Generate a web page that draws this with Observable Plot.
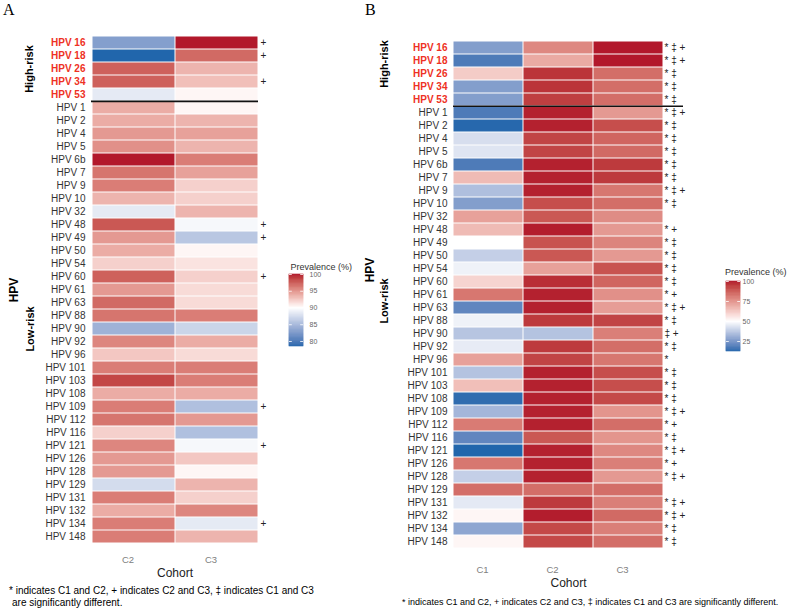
<!DOCTYPE html>
<html><head><meta charset="utf-8">
<script src="https://cdn.jsdelivr.net/npm/d3@7"></script>
<script src="https://cdn.jsdelivr.net/npm/@observablehq/plot@0.6"></script>
<style>
body{margin:0;background:#fff;}
#root{position:relative;width:788px;height:609px;overflow:hidden;background:#fff;font-family:"Liberation Sans",Arial,sans-serif;}
.abs{position:absolute;}
</style></head><body><div id="root"></div>
<script>
// ---------- data ----------
const hpvTypes = ["HPV 16","HPV 18","HPV 26","HPV 34","HPV 53","HPV 1","HPV 2","HPV 4","HPV 5","HPV 6b","HPV 7","HPV 9","HPV 10","HPV 32","HPV 48","HPV 49","HPV 50","HPV 54","HPV 60","HPV 61","HPV 63","HPV 88","HPV 90","HPV 92","HPV 96","HPV 101","HPV 103","HPV 108","HPV 109","HPV 112","HPV 116","HPV 121","HPV 126","HPV 128","HPV 129","HPV 131","HPV 132","HPV 134","HPV 148"];
const highRisk = ["HPV 16","HPV 18","HPV 26","HPV 34","HPV 53"];
const cohortsA = ["C2","C3"];
const cohortsB = ["C1","C2","C3"];

// Panel A prevalence (%)
const prevA_C2 = [83,78.5,97.4,97.4,88.5,93.9,93.9,94.8,95.2,100,96.5,96.1,93.5,88.5,97.8,94.8,93.9,92.2,97.4,94.8,97,96.5,84.5,95.7,92.6,96.1,98.5,93.9,96.1,96.5,92.2,95.7,94.8,94.8,87.5,96.1,93.9,96.1,96.1];
const prevA_C3 = [100,97,93.5,93,90.4,90.4,93.5,94.4,93.5,96.1,94.4,92.2,92.2,93.5,89.5,86,90.4,91.3,92.2,91.7,91.7,96.1,87,93.9,91.7,96.1,96.1,93.9,85.5,94.8,85.5,89.5,92.6,90.4,93.5,92.2,95.7,88.5,93.5];
const sigA = ["+","+","","+","","","","","","","","","","","+","+","","","+","","","","","","","","","","+","","","+","","","","","","+",""];

// Panel B prevalence (%)
const prevB_C1 = [27,18,62,27,27,18,13,42.5,44,18,66,35,27,72,66,50,39,47,60,82,21,47,36.5,45.5,72,36,65,14,33,81,21,12.5,82,39,84,45,52,29,52];
const prevB_C2 = [78,70,96,96,94,99,99,93,93,99,99,99,91,89,99.5,90,89,72,97,99,99,95,36,95,93,99,99,99,99,99,89,99,99,99,84,95,99.5,92,92];
const prevB_C3 = [100,100,84,84,84,74,91,86,85,95,95,82,84,77,74,79,74,90,86,76,73,93,80,84,82,91,91,92,75,84,75,78,80,74,84,80,85,80,84];
const sigB = ["* ‡ +","* ‡ +","* ‡","* ‡","* ‡","* ‡ +","* ‡","* ‡","* ‡","* ‡","* ‡","* ‡ +","* ‡","","* +","* ‡","* ‡","* ‡","* ‡","* +","* ‡ +","* ‡","‡ +","* ‡","*","* ‡","* ‡","* ‡","* ‡ +","* +","* ‡","* ‡ +","* +","* ‡ +","","* ‡ +","* ‡ +","* ‡","* ‡"];

const ticksA = [80,85,90,95,100];
const ticksB = [25,50,75,100];
const pivotA = 90, pivotB = 50;

// ---------- tidy ----------
const lowRisk = hpvTypes.filter(h => !highRisk.includes(h));
const cellsA = hpvTypes.flatMap((h,i) => [
  {hpv:h, cohort:"C2", value:prevA_C2[i]},
  {hpv:h, cohort:"C3", value:prevA_C3[i]}]);
const cellsB = hpvTypes.flatMap((h,i) => [
  {hpv:h, cohort:"C1", value:prevB_C1[i]},
  {hpv:h, cohort:"C2", value:prevB_C2[i]},
  {hpv:h, cohort:"C3", value:prevB_C3[i]}]);
const sigRowsA = hpvTypes.map((h,i) => ({hpv:h, sig:sigA[i]}));
const sigRowsB = hpvTypes.map((h,i) => ({hpv:h, sig:sigB[i]}));
const extA = d3.extent(cellsA, d => d.value);
const extB = d3.extent(cellsB, d => d.value);

const FONT = "Liberation Sans, Arial, sans-serif";
const colorOpt = (ext, pivot) => ({type:"diverging", pivot, symmetric: false, domain: ext, range:["#2166AC","#FFFFFF","#B2182B"], interpolate:"lab"});
const RED = "#EE3124", LAB = "#333333";

const root = document.getElementById("root");
function place(node, left, top, w) {
  const d = document.createElement("div");
  d.className = "abs"; d.style.left = left + "px"; d.style.top = top + "px"; d.style.width = w + "px";
  d.appendChild(node); root.appendChild(d);
}

function heatmap({cells, sigRows, cohorts, ext, pivot, width, height, mL, mR, mT, mB, sigDx, ruleExt}) {
  const bw = (height - mT - mB) / hpvTypes.length;
  return Plot.plot({
    width, height, marginLeft: mL, marginRight: mR, marginTop: mT, marginBottom: mB,
    style: {fontFamily: FONT, background: "transparent", overflow: "visible"},
    x: {domain: cohorts, padding: 0},
    y: {domain: hpvTypes, padding: 0},
    color: colorOpt(ext, pivot),
    marks: [
      Plot.cell(cells, {x: "cohort", y: "hpv", fill: "value", inset: 0.5}),
      Plot.ruleY(["HPV 1"], {stroke: "#111", strokeWidth: 1.6, dy: -bw/2, insetRight: -ruleExt}),
      Plot.text(sigRows, {y: "hpv", text: "sig", frameAnchor: "right", textAnchor: "start", dx: sigDx, fontSize: 10, fill: "#222"}),
      Plot.axisY(highRisk, {tickSize: 0, tickPadding: 6, fontSize: 10, fontWeight: "bold", fill: RED, label: null}),
      Plot.axisY(lowRisk, {tickSize: 0, tickPadding: 6, fontSize: 10, fill: LAB, label: null}),
      Plot.axisX({tickSize: 0, tickPadding: 8, fontSize: 9.5, fill: "#808080", dx: -6, label: null})
    ]
  });
}

function legendBar(ext, pivot, ticks, pad, h) {
  const N = 90;
  const stops = d3.range(N).map(i => {
    const a = ext[0] + (ext[1]-ext[0]) * i / N, b = ext[0] + (ext[1]-ext[0]) * (i+1) / N;
    return {a, b, m: (a+b)/2};
  });
  return Plot.plot({
    width: 50, height: h, margin: 0, marginRight: 36,
    style: {fontFamily: FONT, background: "transparent", overflow: "visible"},
    x: {domain: [0,1], axis: null},
    y: {domain: ext},
    color: colorOpt(ext, pivot),
    marks: [
      Plot.rect(stops, {x1: 0, x2: 1, y1: "a", y2: "b", fill: "m", stroke: "m", strokeWidth: 0.6}),
      Plot.ruleY(ticks, {x1: 0, x2: 0.2, stroke: "white", strokeWidth: 0.8}),
      Plot.ruleY(ticks, {x1: 0.8, x2: 1, stroke: "white", strokeWidth: 0.8}),
      Plot.axisY(ticks, {anchor: "right", tickSize: 0, tickPadding: pad, fontSize: 7, fill: "#666", label: null})
    ]
  });
}

place(heatmap({cells: cellsA, sigRows: sigRowsA, cohorts: cohortsA, ext: extA, pivot: pivotA,
  width: 280, height: 570, mL: 91, mR: 22, mT: 31, mB: 22, sigDx: 2, ruleExt: 0}), 0, 0, 280);
place(heatmap({cells: cellsB, sigRows: sigRowsB, cohorts: cohortsB, ext: extB, pivot: pivotB,
  width: 303, height: 580, mL: 63, mR: 30, mT: 30, mB: 22, sigDx: 1, ruleExt: 20}), 390, 0, 303);
place(legendBar(extA, pivotA, ticksA, 6, 72), 289, 274, 50);
place(legendBar(extB, pivotB, ticksB, 2, 70), 726, 281, 50);

// ---------- free text overlay ----------
const svg = d3.select(root).append("svg").attr("class", "abs")
  .attr("width", 788).attr("height", 609).style("left", "0px").style("top", "0px")
  .style("pointer-events", "none").style("font-family", FONT);
function txt(x, y, s, o = {}) {
  const t = svg.append("text").attr("x", x).attr("y", y).text(s)
    .attr("font-size", o.size || 10).attr("fill", o.fill || "#000")
    .attr("text-anchor", o.anchor || "start");
  if (o.weight) t.attr("font-weight", o.weight);
  if (o.family) t.attr("font-family", o.family);
  return t;
}
function vtxt(cx, cy, s, size) {
  svg.append("text").attr("transform", `translate(${cx},${cy}) rotate(-90)`)
    .attr("text-anchor", "middle").attr("dy", "0.36em").attr("font-size", size)
    .attr("font-weight", "bold").attr("fill", "#000").text(s);
}
txt(3, 15, "A", {size: 16, family: "Liberation Serif, Times New Roman, serif"});
txt(365, 15, "B", {size: 16, family: "Liberation Serif, Times New Roman, serif"});
vtxt(29, 69, "High-risk", 11);
vtxt(14, 290, "HPV", 12);
vtxt(30, 329, "Low-risk", 11);
vtxt(384, 64, "High-risk", 11);
vtxt(370, 270, "HPV", 12);
vtxt(384, 301, "Low-risk", 11);
txt(175, 577, "Cohort", {size: 12, anchor: "middle", fill: "#222"});
txt(568.5, 587, "Cohort", {size: 12, anchor: "middle", fill: "#222"});
txt(290.5, 270, "Prevalence (%)", {size: 9, fill: "#333"});
txt(725, 275, "Prevalence (%)", {size: 9, fill: "#333"});
txt(9, 594, "* indicates C1 and C2, + indicates C2 and C3, ‡ indicates C1 and C3", {size: 10});
txt(12, 605.5, "are significantly different.", {size: 10});
txt(402, 604.5, "* indicates C1 and C2, + indicates C2 and C3, ‡ indicates C1 and C3 are significantly different.", {size: 9});
</script></body></html>
